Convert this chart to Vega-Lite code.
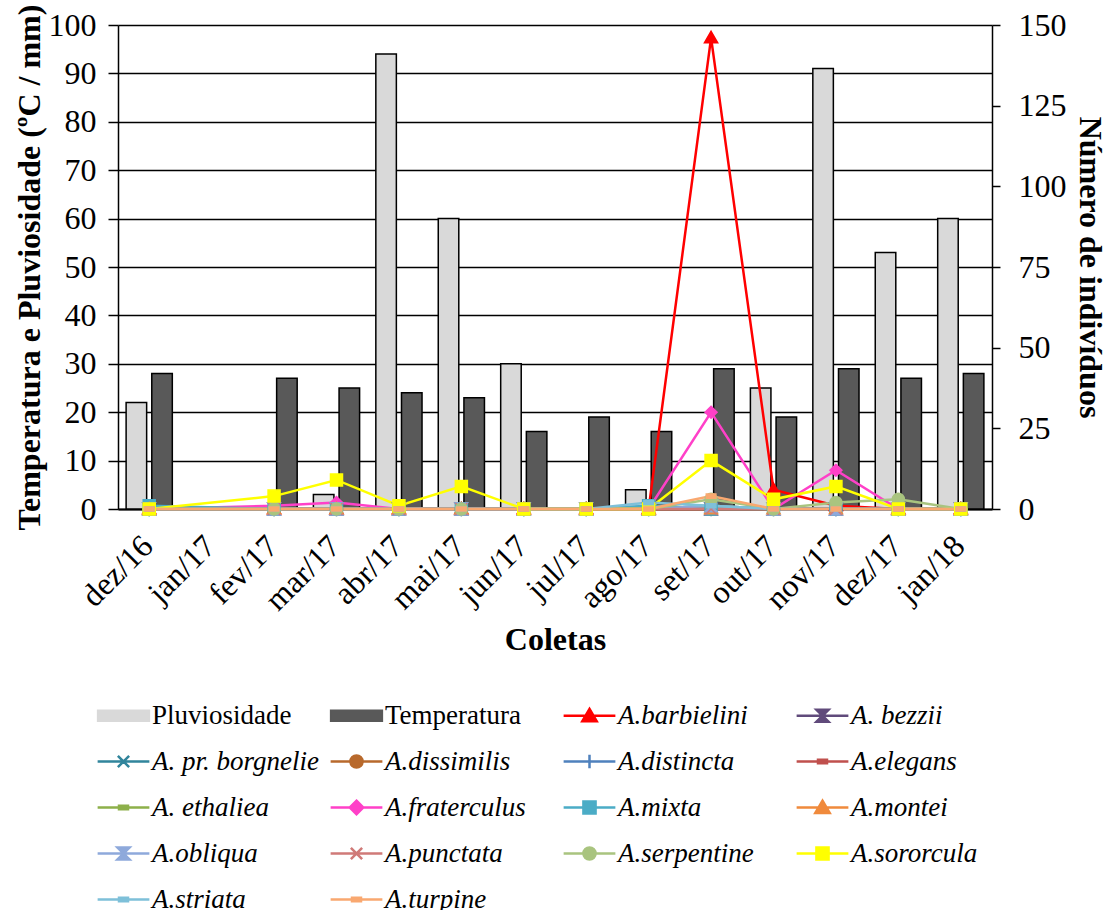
{
  "$schema": "https://vega.github.io/schema/vega-lite/v6.json",
  "width": 874,
  "height": 484,
  "padding": {"left": 12, "top": 4, "right": 0, "bottom": 0},
  "background": "white",
  "config": {
    "font": "Liberation Serif",
    "view": {"stroke": null},
    "axis": {"labelFont": "Liberation Serif", "titleFont": "Liberation Serif", "labelColor": "black", "titleColor": "black", "domainColor": "black", "tickColor": "black", "labelFontSize": 32, "titleFontSize": 32, "titleFontWeight": "bold"},
    "legend": {"labelFont": "Liberation Serif", "labelFontSize": 27, "labelColor": "black", "padding": 0}
  },
  "datasets": {
    "bars": [
      {"mes": "dez/16", "serie": "Pluviosidade", "valor": 22},
      {"mes": "dez/16", "serie": "Temperatura", "valor": 28},
      {"mes": "fev/17", "serie": "Temperatura", "valor": 27},
      {"mes": "mar/17", "serie": "Pluviosidade", "valor": 3},
      {"mes": "mar/17", "serie": "Temperatura", "valor": 25},
      {"mes": "abr/17", "serie": "Pluviosidade", "valor": 94},
      {"mes": "abr/17", "serie": "Temperatura", "valor": 24},
      {"mes": "mai/17", "serie": "Pluviosidade", "valor": 60},
      {"mes": "mai/17", "serie": "Temperatura", "valor": 23},
      {"mes": "jun/17", "serie": "Pluviosidade", "valor": 30},
      {"mes": "jun/17", "serie": "Temperatura", "valor": 16},
      {"mes": "jul/17", "serie": "Temperatura", "valor": 19},
      {"mes": "ago/17", "serie": "Pluviosidade", "valor": 4},
      {"mes": "ago/17", "serie": "Temperatura", "valor": 16},
      {"mes": "set/17", "serie": "Temperatura", "valor": 29},
      {"mes": "out/17", "serie": "Pluviosidade", "valor": 25},
      {"mes": "out/17", "serie": "Temperatura", "valor": 19},
      {"mes": "nov/17", "serie": "Pluviosidade", "valor": 91},
      {"mes": "nov/17", "serie": "Temperatura", "valor": 29},
      {"mes": "dez/17", "serie": "Pluviosidade", "valor": 53},
      {"mes": "dez/17", "serie": "Temperatura", "valor": 27},
      {"mes": "jan/18", "serie": "Pluviosidade", "valor": 60},
      {"mes": "jan/18", "serie": "Temperatura", "valor": 28}
    ],
    "especies": [
      {"serie": "A.barbielini", "mes": "dez/16", "n": 0}, {"serie": "A.barbielini", "mes": "fev/17", "n": 0}, {"serie": "A.barbielini", "mes": "mar/17", "n": 0}, {"serie": "A.barbielini", "mes": "abr/17", "n": 0}, {"serie": "A.barbielini", "mes": "mai/17", "n": 0}, {"serie": "A.barbielini", "mes": "jun/17", "n": 0}, {"serie": "A.barbielini", "mes": "jul/17", "n": 0}, {"serie": "A.barbielini", "mes": "ago/17", "n": 0}, {"serie": "A.barbielini", "mes": "set/17", "n": 146}, {"serie": "A.barbielini", "mes": "out/17", "n": 6}, {"serie": "A.barbielini", "mes": "nov/17", "n": 1}, {"serie": "A.barbielini", "mes": "dez/17", "n": 0}, {"serie": "A.barbielini", "mes": "jan/18", "n": 0},
      {"serie": "A. bezzii", "mes": "dez/16", "n": 0}, {"serie": "A. bezzii", "mes": "fev/17", "n": 0}, {"serie": "A. bezzii", "mes": "mar/17", "n": 0}, {"serie": "A. bezzii", "mes": "abr/17", "n": 0}, {"serie": "A. bezzii", "mes": "mai/17", "n": 0}, {"serie": "A. bezzii", "mes": "jun/17", "n": 0}, {"serie": "A. bezzii", "mes": "jul/17", "n": 0}, {"serie": "A. bezzii", "mes": "ago/17", "n": 0}, {"serie": "A. bezzii", "mes": "set/17", "n": 0}, {"serie": "A. bezzii", "mes": "out/17", "n": 0}, {"serie": "A. bezzii", "mes": "nov/17", "n": 0}, {"serie": "A. bezzii", "mes": "dez/17", "n": 0}, {"serie": "A. bezzii", "mes": "jan/18", "n": 0},
      {"serie": "A. pr. borgnelie", "mes": "dez/16", "n": 0}, {"serie": "A. pr. borgnelie", "mes": "fev/17", "n": 0}, {"serie": "A. pr. borgnelie", "mes": "mar/17", "n": 0}, {"serie": "A. pr. borgnelie", "mes": "abr/17", "n": 0}, {"serie": "A. pr. borgnelie", "mes": "mai/17", "n": 0}, {"serie": "A. pr. borgnelie", "mes": "jun/17", "n": 0}, {"serie": "A. pr. borgnelie", "mes": "jul/17", "n": 0}, {"serie": "A. pr. borgnelie", "mes": "ago/17", "n": 0}, {"serie": "A. pr. borgnelie", "mes": "set/17", "n": 0}, {"serie": "A. pr. borgnelie", "mes": "out/17", "n": 0}, {"serie": "A. pr. borgnelie", "mes": "nov/17", "n": 0}, {"serie": "A. pr. borgnelie", "mes": "dez/17", "n": 0}, {"serie": "A. pr. borgnelie", "mes": "jan/18", "n": 0},
      {"serie": "A.dissimilis", "mes": "dez/16", "n": 0}, {"serie": "A.dissimilis", "mes": "fev/17", "n": 0}, {"serie": "A.dissimilis", "mes": "mar/17", "n": 0}, {"serie": "A.dissimilis", "mes": "abr/17", "n": 0}, {"serie": "A.dissimilis", "mes": "mai/17", "n": 0}, {"serie": "A.dissimilis", "mes": "jun/17", "n": 0}, {"serie": "A.dissimilis", "mes": "jul/17", "n": 0}, {"serie": "A.dissimilis", "mes": "ago/17", "n": 0}, {"serie": "A.dissimilis", "mes": "set/17", "n": 0}, {"serie": "A.dissimilis", "mes": "out/17", "n": 0}, {"serie": "A.dissimilis", "mes": "nov/17", "n": 0}, {"serie": "A.dissimilis", "mes": "dez/17", "n": 0}, {"serie": "A.dissimilis", "mes": "jan/18", "n": 0},
      {"serie": "A.distincta", "mes": "dez/16", "n": 0}, {"serie": "A.distincta", "mes": "fev/17", "n": 0}, {"serie": "A.distincta", "mes": "mar/17", "n": 0}, {"serie": "A.distincta", "mes": "abr/17", "n": 0}, {"serie": "A.distincta", "mes": "mai/17", "n": 0}, {"serie": "A.distincta", "mes": "jun/17", "n": 0}, {"serie": "A.distincta", "mes": "jul/17", "n": 0}, {"serie": "A.distincta", "mes": "ago/17", "n": 0}, {"serie": "A.distincta", "mes": "set/17", "n": 1}, {"serie": "A.distincta", "mes": "out/17", "n": 0}, {"serie": "A.distincta", "mes": "nov/17", "n": 0}, {"serie": "A.distincta", "mes": "dez/17", "n": 0}, {"serie": "A.distincta", "mes": "jan/18", "n": 0},
      {"serie": "A.elegans", "mes": "dez/16", "n": 0}, {"serie": "A.elegans", "mes": "fev/17", "n": 0}, {"serie": "A.elegans", "mes": "mar/17", "n": 0}, {"serie": "A.elegans", "mes": "abr/17", "n": 0}, {"serie": "A.elegans", "mes": "mai/17", "n": 0}, {"serie": "A.elegans", "mes": "jun/17", "n": 0}, {"serie": "A.elegans", "mes": "jul/17", "n": 0}, {"serie": "A.elegans", "mes": "ago/17", "n": 0}, {"serie": "A.elegans", "mes": "set/17", "n": 0}, {"serie": "A.elegans", "mes": "out/17", "n": 0}, {"serie": "A.elegans", "mes": "nov/17", "n": 0}, {"serie": "A.elegans", "mes": "dez/17", "n": 0}, {"serie": "A.elegans", "mes": "jan/18", "n": 0},
      {"serie": "A. ethaliea", "mes": "dez/16", "n": 0}, {"serie": "A. ethaliea", "mes": "fev/17", "n": 0}, {"serie": "A. ethaliea", "mes": "mar/17", "n": 0}, {"serie": "A. ethaliea", "mes": "abr/17", "n": 0}, {"serie": "A. ethaliea", "mes": "mai/17", "n": 0}, {"serie": "A. ethaliea", "mes": "jun/17", "n": 0}, {"serie": "A. ethaliea", "mes": "jul/17", "n": 0}, {"serie": "A. ethaliea", "mes": "ago/17", "n": 0}, {"serie": "A. ethaliea", "mes": "set/17", "n": 1}, {"serie": "A. ethaliea", "mes": "out/17", "n": 0}, {"serie": "A. ethaliea", "mes": "nov/17", "n": 0}, {"serie": "A. ethaliea", "mes": "dez/17", "n": 0}, {"serie": "A. ethaliea", "mes": "jan/18", "n": 0},
      {"serie": "A.fraterculus", "mes": "dez/16", "n": 0}, {"serie": "A.fraterculus", "mes": "fev/17", "n": 1}, {"serie": "A.fraterculus", "mes": "mar/17", "n": 2}, {"serie": "A.fraterculus", "mes": "abr/17", "n": 0}, {"serie": "A.fraterculus", "mes": "mai/17", "n": 0}, {"serie": "A.fraterculus", "mes": "jun/17", "n": 0}, {"serie": "A.fraterculus", "mes": "jul/17", "n": 0}, {"serie": "A.fraterculus", "mes": "ago/17", "n": 0}, {"serie": "A.fraterculus", "mes": "set/17", "n": 30}, {"serie": "A.fraterculus", "mes": "out/17", "n": 0}, {"serie": "A.fraterculus", "mes": "nov/17", "n": 12}, {"serie": "A.fraterculus", "mes": "dez/17", "n": 0}, {"serie": "A.fraterculus", "mes": "jan/18", "n": 0},
      {"serie": "A.mixta", "mes": "dez/16", "n": 1}, {"serie": "A.mixta", "mes": "fev/17", "n": 0}, {"serie": "A.mixta", "mes": "mar/17", "n": 0}, {"serie": "A.mixta", "mes": "abr/17", "n": 0}, {"serie": "A.mixta", "mes": "mai/17", "n": 0}, {"serie": "A.mixta", "mes": "jun/17", "n": 0}, {"serie": "A.mixta", "mes": "jul/17", "n": 0}, {"serie": "A.mixta", "mes": "ago/17", "n": 1}, {"serie": "A.mixta", "mes": "set/17", "n": 0}, {"serie": "A.mixta", "mes": "out/17", "n": 0}, {"serie": "A.mixta", "mes": "nov/17", "n": 0}, {"serie": "A.mixta", "mes": "dez/17", "n": 0}, {"serie": "A.mixta", "mes": "jan/18", "n": 0},
      {"serie": "A.montei", "mes": "dez/16", "n": 0}, {"serie": "A.montei", "mes": "fev/17", "n": 0}, {"serie": "A.montei", "mes": "mar/17", "n": 0}, {"serie": "A.montei", "mes": "abr/17", "n": 0}, {"serie": "A.montei", "mes": "mai/17", "n": 0}, {"serie": "A.montei", "mes": "jun/17", "n": 0}, {"serie": "A.montei", "mes": "jul/17", "n": 0}, {"serie": "A.montei", "mes": "ago/17", "n": 0}, {"serie": "A.montei", "mes": "set/17", "n": 0}, {"serie": "A.montei", "mes": "out/17", "n": 0}, {"serie": "A.montei", "mes": "nov/17", "n": 0}, {"serie": "A.montei", "mes": "dez/17", "n": 0}, {"serie": "A.montei", "mes": "jan/18", "n": 0},
      {"serie": "A.obliqua", "mes": "dez/16", "n": 0}, {"serie": "A.obliqua", "mes": "fev/17", "n": 0}, {"serie": "A.obliqua", "mes": "mar/17", "n": 0}, {"serie": "A.obliqua", "mes": "abr/17", "n": 0}, {"serie": "A.obliqua", "mes": "mai/17", "n": 0}, {"serie": "A.obliqua", "mes": "jun/17", "n": 0}, {"serie": "A.obliqua", "mes": "jul/17", "n": 0}, {"serie": "A.obliqua", "mes": "ago/17", "n": 0}, {"serie": "A.obliqua", "mes": "set/17", "n": 1}, {"serie": "A.obliqua", "mes": "out/17", "n": 0}, {"serie": "A.obliqua", "mes": "nov/17", "n": 0}, {"serie": "A.obliqua", "mes": "dez/17", "n": 0}, {"serie": "A.obliqua", "mes": "jan/18", "n": 0},
      {"serie": "A.punctata", "mes": "dez/16", "n": 0}, {"serie": "A.punctata", "mes": "fev/17", "n": 0}, {"serie": "A.punctata", "mes": "mar/17", "n": 0}, {"serie": "A.punctata", "mes": "abr/17", "n": 0}, {"serie": "A.punctata", "mes": "mai/17", "n": 0}, {"serie": "A.punctata", "mes": "jun/17", "n": 0}, {"serie": "A.punctata", "mes": "jul/17", "n": 0}, {"serie": "A.punctata", "mes": "ago/17", "n": 0}, {"serie": "A.punctata", "mes": "set/17", "n": 0}, {"serie": "A.punctata", "mes": "out/17", "n": 0}, {"serie": "A.punctata", "mes": "nov/17", "n": 0}, {"serie": "A.punctata", "mes": "dez/17", "n": 0}, {"serie": "A.punctata", "mes": "jan/18", "n": 0},
      {"serie": "A.serpentine", "mes": "dez/16", "n": 0}, {"serie": "A.serpentine", "mes": "fev/17", "n": 0}, {"serie": "A.serpentine", "mes": "mar/17", "n": 0}, {"serie": "A.serpentine", "mes": "abr/17", "n": 0}, {"serie": "A.serpentine", "mes": "mai/17", "n": 0}, {"serie": "A.serpentine", "mes": "jun/17", "n": 0}, {"serie": "A.serpentine", "mes": "jul/17", "n": 0}, {"serie": "A.serpentine", "mes": "ago/17", "n": 0}, {"serie": "A.serpentine", "mes": "set/17", "n": 3}, {"serie": "A.serpentine", "mes": "out/17", "n": 0}, {"serie": "A.serpentine", "mes": "nov/17", "n": 2}, {"serie": "A.serpentine", "mes": "dez/17", "n": 3}, {"serie": "A.serpentine", "mes": "jan/18", "n": 0},
      {"serie": "A.sororcula", "mes": "dez/16", "n": 0}, {"serie": "A.sororcula", "mes": "fev/17", "n": 4}, {"serie": "A.sororcula", "mes": "mar/17", "n": 9}, {"serie": "A.sororcula", "mes": "abr/17", "n": 1}, {"serie": "A.sororcula", "mes": "mai/17", "n": 7}, {"serie": "A.sororcula", "mes": "jun/17", "n": 0}, {"serie": "A.sororcula", "mes": "jul/17", "n": 0}, {"serie": "A.sororcula", "mes": "ago/17", "n": 0}, {"serie": "A.sororcula", "mes": "set/17", "n": 15}, {"serie": "A.sororcula", "mes": "out/17", "n": 3}, {"serie": "A.sororcula", "mes": "nov/17", "n": 7}, {"serie": "A.sororcula", "mes": "dez/17", "n": 0}, {"serie": "A.sororcula", "mes": "jan/18", "n": 0},
      {"serie": "A.striata", "mes": "dez/16", "n": 0}, {"serie": "A.striata", "mes": "fev/17", "n": 0}, {"serie": "A.striata", "mes": "mar/17", "n": 0}, {"serie": "A.striata", "mes": "abr/17", "n": 0}, {"serie": "A.striata", "mes": "mai/17", "n": 0}, {"serie": "A.striata", "mes": "jun/17", "n": 0}, {"serie": "A.striata", "mes": "jul/17", "n": 0}, {"serie": "A.striata", "mes": "ago/17", "n": 2}, {"serie": "A.striata", "mes": "set/17", "n": 1}, {"serie": "A.striata", "mes": "out/17", "n": 0}, {"serie": "A.striata", "mes": "nov/17", "n": 0}, {"serie": "A.striata", "mes": "dez/17", "n": 0}, {"serie": "A.striata", "mes": "jan/18", "n": 0},
      {"serie": "A.turpine", "mes": "dez/16", "n": 0}, {"serie": "A.turpine", "mes": "fev/17", "n": 0}, {"serie": "A.turpine", "mes": "mar/17", "n": 0}, {"serie": "A.turpine", "mes": "abr/17", "n": 0}, {"serie": "A.turpine", "mes": "mai/17", "n": 0}, {"serie": "A.turpine", "mes": "jun/17", "n": 0}, {"serie": "A.turpine", "mes": "jul/17", "n": 0}, {"serie": "A.turpine", "mes": "ago/17", "n": 0}, {"serie": "A.turpine", "mes": "set/17", "n": 4}, {"serie": "A.turpine", "mes": "out/17", "n": 0}, {"serie": "A.turpine", "mes": "nov/17", "n": 0}, {"serie": "A.turpine", "mes": "dez/17", "n": 0}, {"serie": "A.turpine", "mes": "jan/18", "n": 0}
    ]
  },
  "encoding": {
    "x": {
      "field": "mes", "type": "nominal",
      "scale": {"domain": ["dez/16", "jan/17", "fev/17", "mar/17", "abr/17", "mai/17", "jun/17", "jul/17", "ago/17", "set/17", "out/17", "nov/17", "dez/17", "jan/18"], "paddingInner": 0.26, "paddingOuter": 0.13},
      "sort": null,
      "axis": {"title": "Coletas", "labelAngle": -45, "ticks": false, "labelPadding": 21, "labelOffset": -12, "domainWidth": 2, "titlePadding": 8}
    },
    "color": {
      "field": "serie", "type": "nominal",
      "scale": {
        "domain": ["Pluviosidade", "Temperatura", "A.barbielini", "A. bezzii", "A. pr. borgnelie", "A.dissimilis", "A.distincta", "A.elegans", "A. ethaliea", "A.fraterculus", "A.mixta", "A.montei", "A.obliqua", "A.punctata", "A.serpentine", "A.sororcula", "A.striata", "A.turpine"],
        "range": ["#d9d9d9", "#595959", "#ff0000", "#604a7b", "#31859c", "#b8692c", "#4f81bd", "#c0504d", "#8db04a", "#ff40c8", "#4bacc6", "#f08a3c", "#8ea9db", "#d07a78", "#a9c47f", "#ffff00", "#7ec0d9", "#f9a870"]
      },
      "legend": {
        "title": null,
        "orient": "none",
        "direction": "horizontal",
        "legendX": -8,
        "legendY": 677,
        "columns": 4,
        "symbolSize": 2025,
        "symbolStrokeWidth": 2.5,
        "symbolStrokeColor": "black",
        "labelOffset": 15,
        "columnPadding": 6,
        "rowPadding": 18,
        "gridAlign": "all",
        "labelLimit": 300,
        "symbolType": "square",
        "encode": {
          "symbols": {"update": {
            "shape": {"signal": "({'Pluviosidade': 'M-1.15,-0.24H1.15V0.24H-1.15Z', 'Temperatura': 'M-1.15,-0.24H1.15V0.24H-1.15Z', 'A.barbielini': 'M-1.15,0H1.15M0,-0.3L0.32,0.24H-0.32Z', 'A. bezzii': 'M-1.15,0H1.15M-0.27,-0.27H0.27L-0.27,0.27H0.27Z', 'A. pr. borgnelie': 'M-1.15,0H1.15M-0.25,-0.25L0.25,0.25M-0.25,0.25L0.25,-0.25', 'A.dissimilis': 'M-1.15,0H1.15M0.27,0A0.27,0.27,0,1,1,-0.27,0A0.27,0.27,0,1,1,0.27,0Z', 'A.distincta': 'M-1.15,0H1.15M0,-0.3V0.3', 'A.elegans': 'M-1.15,0H1.15M-0.2,-0.08H0.2V0.08H-0.2Z', 'A. ethaliea': 'M-1.15,0H1.15M-0.2,-0.08H0.2V0.08H-0.2Z', 'A.fraterculus': 'M-1.15,0H1.15M0,-0.3L0.3,0L0,0.3L-0.3,0Z', 'A.mixta': 'M-1.15,0H1.15M-0.27,-0.27H0.27V0.27H-0.27Z', 'A.montei': 'M-1.15,0H1.15M0,-0.3L0.32,0.24H-0.32Z', 'A.obliqua': 'M-1.15,0H1.15M-0.27,-0.27H0.27L-0.27,0.27H0.27Z', 'A.punctata': 'M-1.15,0H1.15M-0.25,-0.25L0.25,0.25M-0.25,0.25L0.25,-0.25', 'A.serpentine': 'M-1.15,0H1.15M0.27,0A0.27,0.27,0,1,1,-0.27,0A0.27,0.27,0,1,1,0.27,0Z', 'A.sororcula': 'M-1.15,0H1.15M-0.27,-0.27H0.27V0.27H-0.27Z', 'A.striata': 'M-1.15,0H1.15M-0.2,-0.08H0.2V0.08H-0.2Z', 'A.turpine': 'M-1.15,0H1.15M-0.2,-0.08H0.2V0.08H-0.2Z'})[datum.value]"},
            "fill": {"signal": "scale('color', datum.value)"},
            "stroke": {"signal": "datum.value === 'Pluviosidade' || datum.value === 'Temperatura' ? 'black' : scale('color', datum.value)"},
            "strokeWidth": {"signal": "datum.value === 'Pluviosidade' || datum.value === 'Temperatura' ? 1.5 : 2.5"},
            "opacity": {"value": 1}
          }},
          "labels": {"update": {
            "fontStyle": {"signal": "datum.value === 'Pluviosidade' || datum.value === 'Temperatura' ? 'normal' : 'italic'"}
          }}
        }
      }
    }
  },
  "layer": [
    {
      "data": {"name": "bars"},
      "mark": {"type": "bar", "stroke": "black", "strokeWidth": 1.5},
      "encoding": {
        "y": {"field": "valor", "type": "quantitative", "scale": {"domain": [0, 100]},
          "axis": {"title": "Temperatura e Pluviosidade (ºC / mm)", "values": [0, 10, 20, 30, 40, 50, 60, 70, 80, 90, 100], "grid": true, "gridColor": "black", "gridWidth": 1.5, "gridOpacity": 1, "tickSize": 10, "tickWidth": 1.5, "domainWidth": 1.5, "labelPadding": 12, "titlePadding": 2}},
        "xOffset": {"field": "serie", "type": "nominal", "scale": {"domain": ["Pluviosidade", "Temperatura"], "paddingInner": 0.2}}
      }
    },
    {
      "data": {"name": "especies"},
      "encoding": {
        "y": {"field": "n", "type": "quantitative", "scale": {"domain": [0, 150]},
          "axis": {"title": "Número de indivíduos", "orient": "right", "values": [0, 25, 50, 75, 100, 125, 150], "grid": false, "tickSize": 8, "tickWidth": 1.5, "domainWidth": 1.5, "labelPadding": 18, "titlePadding": 6}}
      },
      "layer": [
        {"mark": {"type": "line", "strokeWidth": 2.5}},
        {
          "mark": {"type": "point", "filled": true, "size": 144, "strokeWidth": 1.5, "opacity": 1},
          "encoding": {
            "shape": {"field": "serie", "type": "nominal", "legend": null,
              "scale": {
                "domain": ["A.barbielini", "A. bezzii", "A. pr. borgnelie", "A.dissimilis", "A.distincta", "A.elegans", "A. ethaliea", "A.fraterculus", "A.mixta", "A.montei", "A.obliqua", "A.punctata", "A.serpentine", "A.sororcula", "A.striata", "A.turpine"],
                "range": ["M0,-1.1L1.1,0.8H-1.1Z", "M-1,-1H1L-1,1H1Z", "M-1,-1L1,1M-1,1L1,-1M0,-1.2V1.2", "circle", "M0,-1.2V1.2", "M-0.8,-0.35H0.8V0.35H-0.8Z", "M-0.8,-0.35H0.8V0.35H-0.8Z", "diamond", "M-1,-1H1V1H-1Z", "M0,-1.1L1.1,0.8H-1.1Z", "M-1,-1H1L-1,1H1Z", "M-1,-1L1,1M-1,1L1,-1", "circle", "M-1,-1H1V1H-1Z", "M-0.8,-0.35H0.8V0.35H-0.8Z", "M-0.8,-0.35H0.8V0.35H-0.8Z"]
              }},
            "stroke": {"field": "serie", "type": "nominal", "legend": null,
              "scale": {
                "domain": ["A.barbielini", "A. bezzii", "A. pr. borgnelie", "A.dissimilis", "A.distincta", "A.elegans", "A. ethaliea", "A.fraterculus", "A.mixta", "A.montei", "A.obliqua", "A.punctata", "A.serpentine", "A.sororcula", "A.striata", "A.turpine"],
                "range": ["#ff0000", "#604a7b", "#31859c", "#b8692c", "#4f81bd", "#c0504d", "#8db04a", "#ff40c8", "#4bacc6", "#f08a3c", "#8ea9db", "#d07a78", "#a9c47f", "#ffff00", "#7ec0d9", "#f9a870"]
              }}
          }
        }
      ]
    }
  ],
  "resolve": {"scale": {"y": "independent"}}
}
